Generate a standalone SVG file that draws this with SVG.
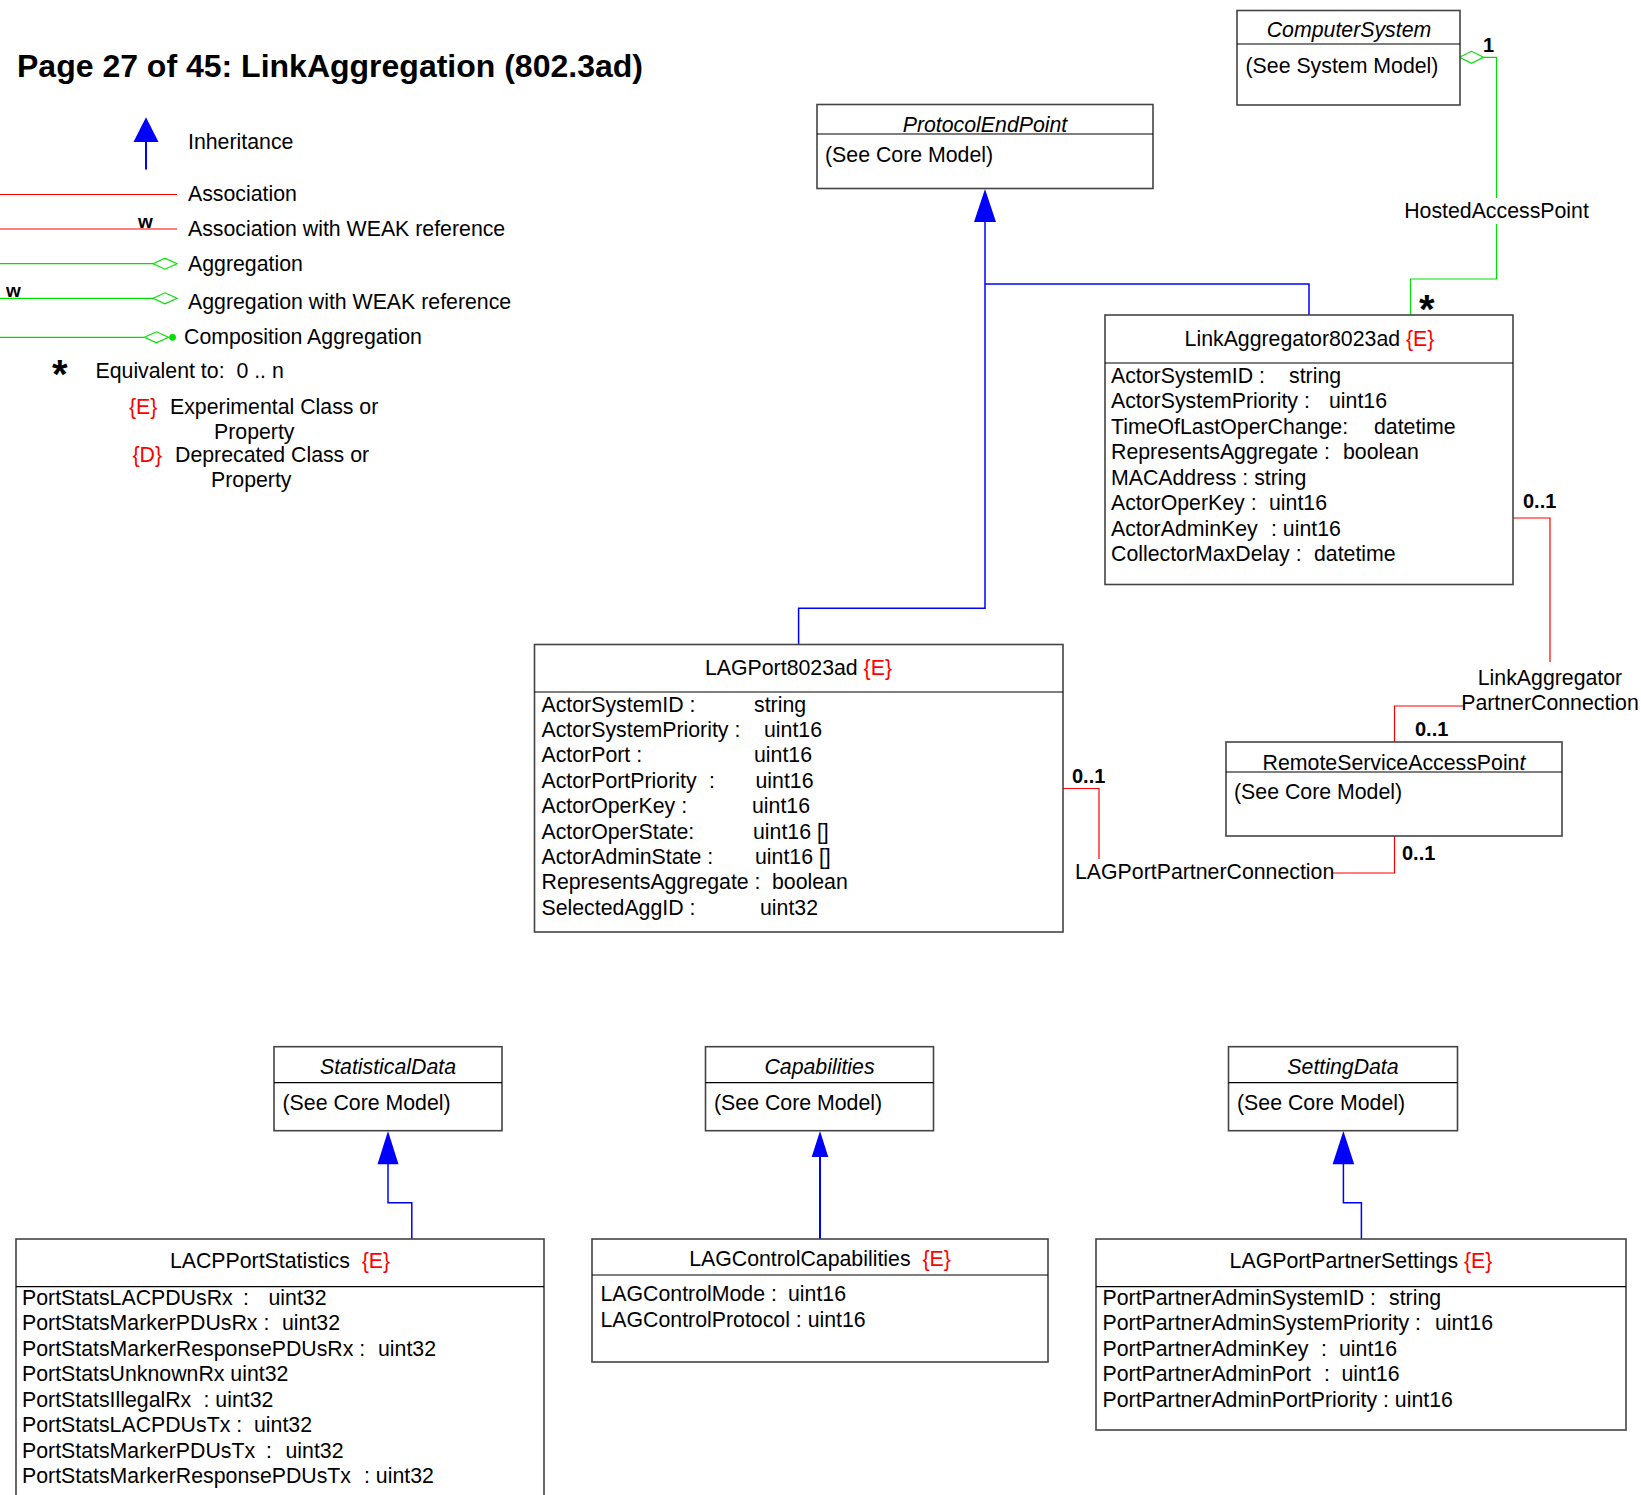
<svg xmlns="http://www.w3.org/2000/svg" width="1641" height="1495" viewBox="0 0 1641 1495">
<style>
text{font-family:"Liberation Sans",Arial,sans-serif;font-size:21.3px;fill:#000}
.title{font-size:32px;font-weight:bold}
.it{font-style:italic}
.e{fill:#ff0000}
.b{font-weight:bold;font-size:20px}
.star{font-weight:bold;font-size:40px}
.w{font-weight:bold;font-size:19px}
.box{fill:#fff;stroke:#444;stroke-width:1.6}
.hd{stroke:#000;stroke-width:1.2}
.inh{fill:none;stroke:#0000ff;stroke-width:1.5}
.head{fill:#0000ff;stroke:none}
.asc{fill:none;stroke:#ff0000;stroke-width:1.2}
.agg{fill:none;stroke:#00e000;stroke-width:1.2}
.dia{fill:#fff;stroke:#00e000;stroke-width:1.2}
.mid{text-anchor:middle}
</style>

<text class="title" x="17" y="77">Page 27 of 45: LinkAggregation (802.3ad)</text>

<g id="legend">
  <line x1="146" y1="140" x2="146" y2="169.5" stroke="#0000ff" stroke-width="2"/>
  <polygon class="head" points="146,117.3 158.5,142 133.5,142"/>
  <text x="188" y="149">Inheritance</text>
  <line class="asc" x1="0" y1="194.5" x2="177" y2="194.5"/>
  <text x="188" y="201">Association</text>
  <line class="asc" x1="0" y1="229" x2="177" y2="229"/>
  <text class="w" x="138" y="227.5">w</text>
  <text x="188" y="236">Association with WEAK reference</text>
  <line class="agg" x1="0" y1="263.7" x2="153" y2="263.7"/>
  <polygon class="dia" points="153,263.7 165,258.2 177,263.7 165,269.2"/>
  <text x="188" y="270.5">Aggregation</text>
  <line class="agg" x1="0" y1="298.3" x2="153" y2="298.3"/>
  <polygon class="dia" points="153,298.3 165,292.8 177,298.3 165,303.8"/>
  <text class="w" x="6" y="297">w</text>
  <text x="188" y="309">Aggregation with WEAK reference</text>
  <line class="agg" x1="0" y1="337.3" x2="144.5" y2="337.3"/>
  <polygon class="dia" points="144.5,337.3 156.5,331.8 168.5,337.3 156.5,342.8"/>
  <circle cx="172.5" cy="337.3" r="3.4" fill="#00e000"/>
  <text x="184" y="344">Composition Aggregation</text>
  <text class="star" x="52" y="388">*</text>
  <text x="95.5" y="378" xml:space="preserve">Equivalent to:  0 .. n</text>
  <text x="129" y="414"><tspan class="e">{E}</tspan></text>
  <text x="170" y="414">Experimental Class or</text>
  <text x="214" y="439">Property</text>
  <text x="132.5" y="461.5"><tspan class="e">{D}</tspan></text>
  <text x="175" y="461.5">Deprecated Class or</text>
  <text x="211" y="487">Property</text>
</g>

<g id="connectors">
  <!-- inheritance to ProtocolEndPoint -->
  <polygon class="head" points="985,189 996,222 974,222"/>
  <polyline class="inh" points="985,222 985,608.3 798.6,608.3 798.6,644.5"/>
  <polyline class="inh" points="985,284 1309,284 1309,315"/>
  <!-- HostedAccessPoint -->
  <polygon class="dia" points="1459.5,57.3 1471.5,51.3 1483.5,57.3 1471.5,63.3"/>
  <polyline class="agg" points="1483.5,57.3 1496.5,57.3 1496.5,198"/>
  <polyline class="agg" points="1496.5,224 1496.5,279 1410.5,279 1410.5,315"/>
  <text class="mid" x="1496.5" y="218">HostedAccessPoint</text>
  <text class="b" x="1483" y="52">1</text>
  <text class="star" x="1419" y="323">*</text>
  <!-- LinkAggregatorPartnerConnection -->
  <polyline class="asc" points="1513,518 1550,518 1550,662"/>
  <polyline class="asc" points="1463,706 1394.5,706 1394.5,743"/>
  <text class="mid" x="1550" y="684.5">LinkAggregator</text>
  <text class="mid" x="1550" y="709.5">PartnerConnection</text>
  <text class="b" x="1523" y="507.5">0..1</text>
  <text class="b" x="1415" y="735.5">0..1</text>
  <!-- LAGPortPartnerConnection -->
  <polyline class="asc" points="1063,788.5 1099,788.5 1099,859"/>
  <polyline class="asc" points="1394.5,836 1394.5,873 1333,873"/>
  <text x="1075" y="879">LAGPortPartnerConnection</text>
  <text class="b" x="1072" y="783">0..1</text>
  <text class="b" x="1402" y="860">0..1</text>
  <!-- StatisticalData inheritance -->
  <polygon class="head" points="388,1131 398.5,1164.3 377.5,1164.3"/>
  <polyline class="inh" points="388,1164 388,1202.7 411.8,1202.7 411.8,1239"/>
  <!-- Capabilities inheritance -->
  <polygon class="head" points="820,1131 828.3,1157 811.7,1157"/>
  <line x1="820" y1="1156" x2="820" y2="1239" stroke="#0000ff" stroke-width="2"/>
  <!-- SettingData inheritance -->
  <polygon class="head" points="1343.4,1131 1354.2,1164.3 1332.6,1164.3"/>
  <polyline class="inh" points="1343.4,1164 1343.4,1202.7 1361.4,1202.7 1361.4,1239"/>
</g>

<g id="ComputerSystem">
  <rect class="box" x="1237" y="10.5" width="223" height="94.5"/>
  <line class="hd" x1="1237" y1="44" x2="1460" y2="44"/>
  <text class="it mid" x="1349" y="37">ComputerSystem</text>
  <text x="1245.5" y="72.5">(See System Model)</text>
</g>

<g id="ProtocolEndPoint">
  <rect class="box" x="817" y="104.5" width="336" height="84"/>
  <line class="hd" x1="817" y1="134" x2="1153" y2="134"/>
  <text class="it mid" x="985" y="132">ProtocolEndPoint</text>
  <text x="825" y="161.5">(See Core Model)</text>
</g>

<g id="LinkAggregator8023ad">
  <rect class="box" x="1105" y="315" width="408" height="269.5"/>
  <line class="hd" x1="1105" y1="363" x2="1513" y2="363"/>
  <text class="mid" x="1309.5" y="346">LinkAggregator8023ad <tspan class="e">{E}</tspan></text>
  <text x="1111" y="382.5">ActorSystemID :<tspan x="1289">string</tspan></text>
  <text x="1111" y="408">ActorSystemPriority :<tspan x="1329">uint16</tspan></text>
  <text x="1111" y="433.5">TimeOfLastOperChange:<tspan x="1374">datetime</tspan></text>
  <text x="1111" y="459">RepresentsAggregate :<tspan x="1343">boolean</tspan></text>
  <text x="1111" y="484.5">MACAddress : string</text>
  <text x="1111" y="510">ActorOperKey :<tspan x="1269">uint16</tspan></text>
  <text x="1111" y="535.5">ActorAdminKey<tspan x="1271">: uint16</tspan></text>
  <text x="1111" y="561">CollectorMaxDelay :<tspan x="1314">datetime</tspan></text>
</g>

<g id="LAGPort8023ad">
  <rect class="box" x="534.5" y="644.5" width="528.5" height="287.5"/>
  <line class="hd" x1="534.5" y1="692" x2="1063" y2="692"/>
  <text class="mid" x="798.5" y="675">LAGPort8023ad <tspan class="e">{E}</tspan></text>
  <text x="541.5" y="711.5">ActorSystemID :<tspan x="754">string</tspan></text>
  <text x="541.5" y="736.9">ActorSystemPriority :<tspan x="764">uint16</tspan></text>
  <text x="541.5" y="762.3">ActorPort :<tspan x="754">uint16</tspan></text>
  <text x="541.5" y="787.7">ActorPortPriority<tspan x="709">:</tspan><tspan x="755.5">uint16</tspan></text>
  <text x="541.5" y="813.1">ActorOperKey :<tspan x="752">uint16</tspan></text>
  <text x="541.5" y="838.5">ActorOperState:<tspan x="753">uint16 []</tspan></text>
  <text x="541.5" y="863.9">ActorAdminState :<tspan x="755">uint16 []</tspan></text>
  <text x="541.5" y="889.3">RepresentsAggregate :<tspan x="772">boolean</tspan></text>
  <text x="541.5" y="914.7">SelectedAggID :<tspan x="760">uint32</tspan></text>
</g>

<g id="RemoteServiceAccessPoint">
  <rect class="box" x="1226" y="742" width="336" height="94"/>
  <line class="hd" x1="1226" y1="772" x2="1562" y2="772"/>
  <text class="mid" x="1394" y="769.5">RemoteServiceAccessPoin<tspan class="it">t</tspan></text>
  <text x="1234" y="799">(See Core Model)</text>
</g>

<g id="StatisticalData">
  <rect class="box" x="274" y="1046.7" width="228" height="84"/>
  <line class="hd" x1="274" y1="1082.7" x2="502" y2="1082.7"/>
  <text class="it mid" x="388" y="1073.5">StatisticalData</text>
  <text x="282.5" y="1110">(See Core Model)</text>
</g>

<g id="Capabilities">
  <rect class="box" x="705.5" y="1046.7" width="228" height="84"/>
  <line class="hd" x1="705.5" y1="1082.7" x2="933.5" y2="1082.7"/>
  <text class="it mid" x="819.5" y="1073.5">Capabilities</text>
  <text x="714" y="1110">(See Core Model)</text>
</g>

<g id="SettingData">
  <rect class="box" x="1228.5" y="1046.7" width="229" height="84"/>
  <line class="hd" x1="1228.5" y1="1082.7" x2="1457.5" y2="1082.7"/>
  <text class="it mid" x="1343" y="1073.5">SettingData</text>
  <text x="1237" y="1110">(See Core Model)</text>
</g>

<g id="LACPPortStatistics">
  <rect class="box" x="16" y="1239" width="528" height="270"/>
  <line class="hd" x1="16" y1="1286.7" x2="544" y2="1286.7"/>
  <text class="mid" x="280" y="1268.3" xml:space="preserve">LACPPortStatistics  <tspan class="e">{E}</tspan></text>
  <text x="22" y="1304.5">PortStatsLACPDUsRx<tspan x="243">:</tspan><tspan x="268.5">uint32</tspan></text>
  <text x="22" y="1330">PortStatsMarkerPDUsRx :<tspan x="282">uint32</tspan></text>
  <text x="22" y="1355.5">PortStatsMarkerResponsePDUsRx :<tspan x="378">uint32</tspan></text>
  <text x="22" y="1381">PortStatsUnknownRx uint32</text>
  <text x="22" y="1406.5">PortStatsIllegalRx<tspan x="203.5">: uint32</tspan></text>
  <text x="22" y="1432">PortStatsLACPDUsTx :<tspan x="254">uint32</tspan></text>
  <text x="22" y="1457.5">PortStatsMarkerPDUsTx<tspan x="266">:</tspan><tspan x="285.5">uint32</tspan></text>
  <text x="22" y="1483">PortStatsMarkerResponsePDUsTx<tspan x="364">: uint32</tspan></text>
</g>

<g id="LAGControlCapabilities">
  <rect class="box" x="592" y="1239" width="456" height="123"/>
  <line class="hd" x1="592" y1="1275" x2="1048" y2="1275"/>
  <text class="mid" x="820" y="1266" xml:space="preserve">LAGControlCapabilities  <tspan class="e">{E}</tspan></text>
  <text x="600.5" y="1301">LAGControlMode :<tspan x="788">uint16</tspan></text>
  <text x="600.5" y="1327">LAGControlProtocol : uint16</text>
</g>

<g id="LAGPortPartnerSettings">
  <rect class="box" x="1096" y="1239" width="530" height="191"/>
  <line class="hd" x1="1096" y1="1286.7" x2="1626" y2="1286.7"/>
  <text class="mid" x="1361" y="1268.3">LAGPortPartnerSettings <tspan class="e">{E}</tspan></text>
  <text x="1102.5" y="1304.5">PortPartnerAdminSystemID :<tspan x="1389">string</tspan></text>
  <text x="1102.5" y="1330">PortPartnerAdminSystemPriority :<tspan x="1435">uint16</tspan></text>
  <text x="1102.5" y="1355.5">PortPartnerAdminKey<tspan x="1321">:</tspan><tspan x="1339">uint16</tspan></text>
  <text x="1102.5" y="1381">PortPartnerAdminPort<tspan x="1324">:</tspan><tspan x="1341.5">uint16</tspan></text>
  <text x="1102.5" y="1406.5">PortPartnerAdminPortPriority : uint16</text>
</g>
</svg>
